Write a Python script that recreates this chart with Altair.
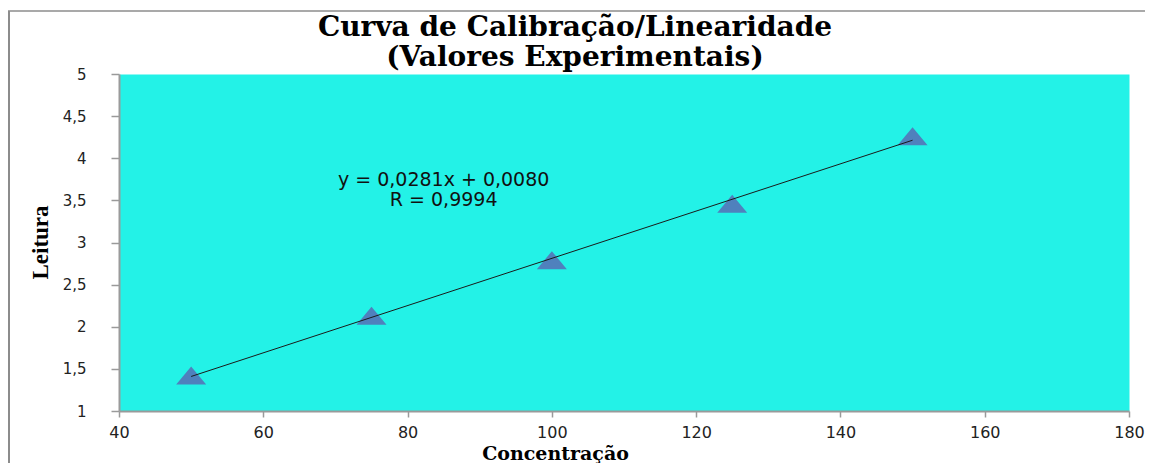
import altair as alt
import pandas as pd

# Data
concentracao = [50, 75, 100, 125, 150]
leitura = [1.42, 2.13, 2.79, 3.46, 4.26]

x_ticks = [40, 60, 80, 100, 120, 140, 160, 180]
y_ticks = [1, 1.5, 2, 2.5, 3, 3.5, 4, 4.5, 5]

title_lines = ["Curva de Calibração/Linearidade", "(Valores Experimentais)"]
eq_lines = ["y = 0,0281x + 0,0080", "R = 0,9994"]

df = pd.DataFrame({"Concentração": concentracao, "Leitura": leitura})

BG = "#23F2E7"
MARK = "#4F81BD"
GRAY = "#9a9a9a"

x_enc = alt.X(
    "Concentração:Q",
    scale=alt.Scale(domain=[40, 180], nice=False, zero=False),
    axis=alt.Axis(
        values=x_ticks,
        grid=False,
        format="~g",
        labelFlush=False,
        title="Concentração",
        titleFont="DejaVu Serif",
        titleFontWeight="bold",
        titleFontSize=19,
        titleColor="#000000",
        titleX=436,
        titleY=48,
        titleAlign="center",
        titleBaseline="alphabetic",
        labelFont="DejaVu Sans",
        labelFontSize=16,
        labelColor="#222222",
        labelPadding=7,
        tickSize=6,
        tickColor=GRAY,
        tickWidth=1.5,
        domainColor=GRAY,
        domainWidth=2,
    ),
)
y_enc = alt.Y(
    "Leitura:Q",
    scale=alt.Scale(domain=[1, 5], nice=False, zero=False),
    axis=alt.Axis(
        values=y_ticks,
        grid=False,
        format="~g",
        labelFlush=False,
        title="Leitura",
        titleFont="Liberation Serif",
        titleFontWeight="bold",
        titleFontSize=23,
        titleColor="#000000",
        titleX=-79,
        titleY=168,
        titleAngle=270,
        titleAlign="center",
        titleBaseline="middle",
        labelFont="DejaVu Sans",
        labelFontSize=15,
        labelColor="#222222",
        labelPadding=25,
        labelExpr="replace(datum.label, '.', ',')",
        tickSize=8,
        tickColor=GRAY,
        tickWidth=1.5,
        domainColor=GRAY,
        domainWidth=2,
    ),
)

base = alt.Chart(df)

points = base.mark_point(
    shape="M-1,0.6L1,0.6L0,-0.6Z",
    size=900,
    filled=True,
    fill=MARK,
    opacity=1,
    strokeWidth=0,
).encode(x=x_enc, y=y_enc)

trend = base.transform_regression("Concentração", "Leitura").mark_line(
    color="#1a1a1a", strokeWidth=1
).encode(x="Concentração:Q", y="Leitura:Q")

eq = alt.Chart(pd.DataFrame({"t": [eq_lines]})).mark_text(
    font="DejaVu Sans",
    fontSize=19,
    color="#111111",
    align="center",
    baseline="alphabetic",
    lineHeight=20,
).encode(
    x=alt.datum(85),
    y=alt.datum(3.67),
    text="t",
)

title = alt.Chart(pd.DataFrame({"t": [title_lines]})).mark_text(
    font="DejaVu Serif",
    fontWeight="bold",
    fontSize=28,
    color="#000000",
    align="center",
    baseline="alphabetic",
    lineHeight=30,
).encode(
    x=alt.value(456),
    y=alt.value(-38),
    text="t",
)

frame_left = alt.Chart(pd.DataFrame({"a": [0]})).mark_rule(
    color="#8c8c8c", strokeWidth=2
).encode(x=alt.value(-110), y=alt.value(-63), y2=alt.value(400))
frame_top = alt.Chart(pd.DataFrame({"a": [0]})).mark_rule(
    color="#8c8c8c", strokeWidth=1.5
).encode(x=alt.value(-111), x2=alt.value(1040), y=alt.value(-63))

chart = (
    alt.layer(frame_left, frame_top, points, trend, eq, title)
    .properties(
        width=1010,
        height=337,
        autosize=alt.AutoSizeParams(type="none"),
        padding={"left": 111, "top": 66, "right": 16, "bottom": 52},
    )
    .configure_view(fill=BG, stroke="transparent")
)

chart.save("out.html", embed_options={"renderer": "svg", "actions": False})
